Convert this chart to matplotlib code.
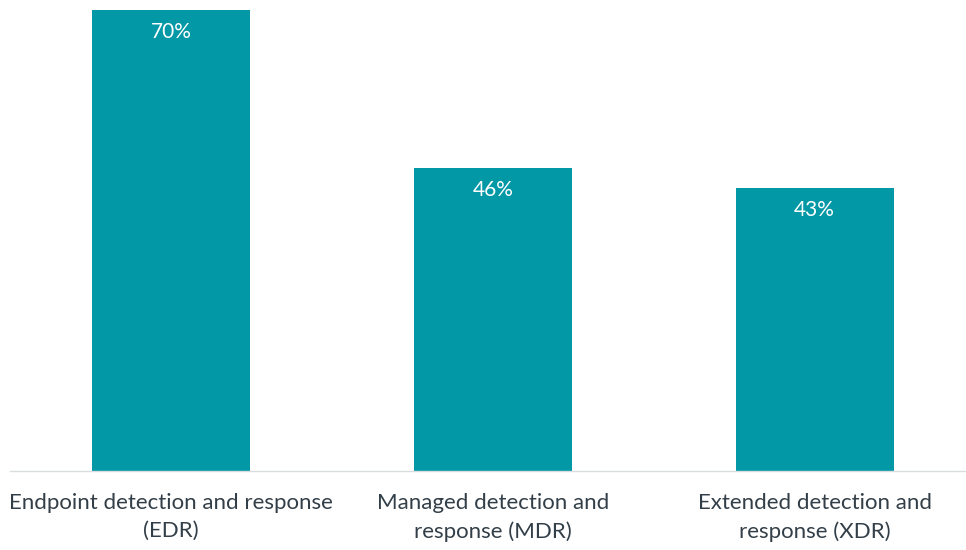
import matplotlib.pyplot as plt

categories = ['Endpoint detection and response\n(EDR)',
              'Managed detection and\nresponse (MDR)',
              'Extended detection and\nresponse (XDR)']
values = [70, 46, 43]

plt.rcParams['font.family'] = ['Lato', 'DejaVu Sans']

fig = plt.figure(figsize=(9.66, 5.5), dpi=100)
ax = fig.add_axes([10 / 966, 79 / 550, 956 / 966, 471 / 550])

x = range(len(values))
bars = ax.bar(x, values, width=0.49, color='#0398A6')

for b, v in zip(bars, values):
    ax.text(b.get_x() + b.get_width() / 2, v - 3.3, f'{v}%',
            ha='center', va='center', color='white', fontsize=15)

ax.set_xlim(-0.5, 2.47)
ax.set_ylim(0, 70 * 471 / 461)
ax.set_xticks(list(x))
ax.set_xticklabels(categories, fontsize=16, color='#333F48', linespacing=1.5)
ax.tick_params(axis='x', length=0, pad=16)
ax.set_yticks([])
for s in ['top', 'right', 'left']:
    ax.spines[s].set_visible(False)
ax.spines['bottom'].set_color('#D9DDE0')
ax.spines['bottom'].set_linewidth(1)

fig.savefig('out.png', dpi=100)
